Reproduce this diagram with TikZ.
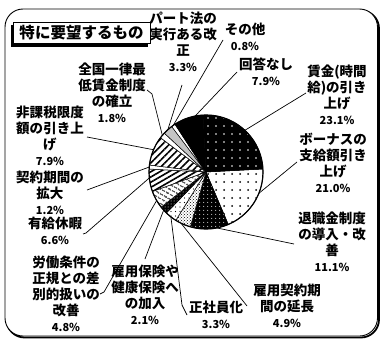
\documentclass[tikz,border=0pt]{standalone}
\usepackage{fontspec}
\newfontfamily\jpfont{Noto Sans CJK JP}
\usetikzlibrary{patterns,patterns.meta}
\newcommand{\pctline}[1]{{\fontsize{11}{16}\selectfont #1}}

\begin{document}
\begin{tikzpicture}[x=1pt,y=-1pt,
  lbl/.style={font=\jpfont\bfseries\fontsize{13.5}{16}\selectfont,align=center,inner sep=0pt},
  lead/.style={line width=0.7pt},
  wedge/.style={draw=black,line width=0.5pt},
  solidblack/.style={fill=black},
  solidwhite/.style={fill=white},
  wagedots/.style={preaction={fill=black},pattern={Dots[distance=8pt,radius=0.8pt]},pattern color=white},
  bonusdots/.style={preaction={fill=white},pattern={Dots[distance=8pt,radius=1pt]},pattern color=black},
  retiredots/.style={preaction={fill=black},pattern={Dots[distance=4pt,radius=0.6pt]},pattern color=white},
  extenddots/.style={preaction={fill=white},pattern=crosshatch dots,pattern color=black},
  regulardots/.style={preaction={fill=white},pattern={Dots[distance=4.5pt,radius=0.7pt]},pattern color=black},
  insurdots/.style={preaction={fill=black},pattern={Dots[distance=3pt,radius=0.5pt]},pattern color=white},
  workhatch/.style={preaction={fill=white},pattern={Lines[angle=-30,distance=4pt,line width=1.4pt]}},
  leavehatch/.style={preaction={fill=white},pattern={Lines[angle=30,distance=4.5pt,line width=1.6pt]}},
  taxhatch/.style={preaction={fill=white},pattern={Lines[angle=45,distance=5pt,line width=1.6pt]}},
  partgray/.style={preaction={fill=white},pattern={Dots[distance=2pt,radius=0.55pt]},pattern color=black}]
\useasboundingbox (0,0) rectangle (382,342);

% outer frame
\draw[line width=1.8pt,rounded corners=18pt] (6.5,10.5) rectangle (379,337.5);
\draw[line width=0.9pt,fill=white,rounded corners=18pt] (5,9) rectangle (377.5,336);

% pie
\coordinate (c) at (206,172);
\foreach \a/\b/\look in {-3/67/bonusdots, 67/106/retiredots, 106/122/extenddots,
    122/134/regulardots, 134/142/insurdots, 142/160/workhatch, 160/183/leavehatch,
    183/187/solidwhite, 187/217/taxhatch, 217/223/solidwhite, 223/233/partgray,
    233/237/solidwhite, 237/267/solidblack, 267/357/wagedots}
  \path[wedge,\look] (c) -- ++(\a:57) arc[start angle=\a,end angle=\b,radius=57] -- cycle;
\draw[line width=1.2pt] (c) circle[radius=57];

% Text Node
\node[lbl] (chingin) at (337,95) {賃金(時間\\給)の引き\\上げ\\\pctline{23.1\%}};
% Text Node
\node[lbl] (bonus) at (333,162.5) {ボーナスの\\支給額引き\\上げ\\\pctline{21.0\%}};
% Text Node
\node[lbl] (taishoku) at (332,242) {退職金制度\\の導入・改\\善\\\pctline{11.1\%}};
% Text Node
\node[lbl] (keiyaku) at (287,306) {雇用契約期\\間の延長\\\pctline{4.9\%}};
% Text Node
\node[lbl] (seishain) at (216,314.5) {正社員化\\\pctline{3.3\%}};
% Text Node
\node[lbl] (hoken) at (145,294.5) {雇用保険や\\健康保険へ\\の加入\\\pctline{2.1\%}};
% Text Node
\node[lbl] (sabetsu) at (66,293.5) {労働条件の\\正規との差\\別的扱いの\\改善\\\pctline{4.8\%}};
% Text Node
\node[lbl] (kyuka) at (55,231) {有給休暇\\\pctline{6.6\%}};
% Text Node
\node[lbl] (kikan) at (50,192.5) {契約期間の\\拡大\\\pctline{1.2\%}};
% Text Node
\node[lbl] (hikazei) at (50,136) {非課税限度\\額の引き上\\げ\\\pctline{7.9\%}};
% Text Node
\node[lbl] (saitei) at (112,92.5) {全国一律最\\低賃金制度\\の確立\\\pctline{1.8\%}};
% Text Node
\node[lbl] (part) at (183,42) {パート法の\\実行ある改\\正\\\pctline{3.3\%}};
% Text Node
\node[lbl] (sonota) at (245,36.5) {その他\\\pctline{0.8\%}};
% Text Node
\node[lbl] (kaitou) at (266,71.5) {回答なし\\\pctline{7.9\%}};

% leader lines
\path (c) ++(313:57) coordinate (chingin-p);
\path (c) ++(22:57) coordinate (bonus-p);
\path (c) ++(79:57) coordinate (taishoku-p);
\path (c) ++(116:57) coordinate (keiyaku-p);
\path (c) ++(128:57) coordinate (seishain-p);
\path (c) ++(138:57) coordinate (hoken-p);
\path (c) ++(150:57) coordinate (sabetsu-p);
\path (c) ++(174:57) coordinate (kyuka-p);
\path (c) ++(185:57) coordinate (kikan-p);
\path (c) ++(203:57) coordinate (hikazei-p);
\path (c) ++(220:57) coordinate (saitei-p);
\path (c) ++(228:57) coordinate (part-p);
\path (c) ++(235:57) coordinate (sonota-p);
\path (c) ++(259:57) coordinate (kaitou-p);

\coordinate (chingin-e) at (306,93);
\coordinate (bonus-e) at (297,162);
\coordinate (taishoku-e) at (294,244);
\coordinate (keiyaku-e) at (247,306);
\coordinate (seishain-e) at (187,315);
\coordinate (hoken-e) at (145,259);
\coordinate (sabetsu-e) at (100,294);
\coordinate (kyuka-e) at (83,234);
\coordinate (kikan-e) at (87,190);
\coordinate (hikazei-e) at (87,137);
\coordinate (saitei-e) at (147,90);
\coordinate (part-e) at (182,85);
\coordinate (sonota-e) at (223,40);
\coordinate (kaitou-e) at (237,72);

\draw[lead] (chingin-e) -- (chingin-p);
\draw[lead] (bonus-e) -- (bonus-p);
\draw[lead] (taishoku-e) -- (taishoku-p);
\draw[lead] (keiyaku-e) -- (keiyaku-p);
\draw[lead] (seishain-e) -- ++(-5,-10) -- (seishain-p);
\draw[lead] (hoken-e) -- (hoken-p);
\draw[lead] (sabetsu-e) -- ++(4,-2) -- (sabetsu-p);
\draw[lead] (kyuka-e) -- ++(3,-1) -- (kyuka-p);
\draw[lead] (kikan-e) -- (kikan-p);
\draw[lead] (hikazei-e) -- (hikazei-p);
\draw[lead] (saitei-e) -- ++(5,4) -- (saitei-p);
\draw[lead] (part-e) -- (part-p);
\draw[lead] (sonota-e) -- (sonota-p);
\draw[lead] (kaitou-e) -- (kaitou-p);

% title box with shadow
\fill[black] (10.5,25) rectangle (147.5,47);
\node[draw,line width=0.8pt,fill=white,minimum width=137pt,minimum height=21pt,inner sep=0pt,
  font=\jpfont\bfseries\fontsize{15.5}{16}\selectfont] (title) at (81.5,32.5) {特に要望するもの};
\end{tikzpicture}
\end{document}
